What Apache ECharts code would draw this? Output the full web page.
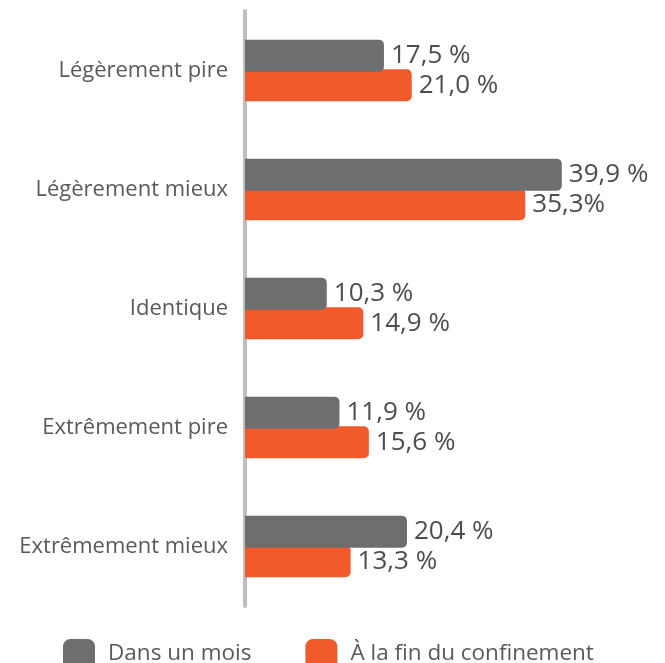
<!DOCTYPE html>
<html>
<head>
<meta charset="utf-8">
<script src="https://cdn.jsdelivr.net/npm/echarts@6/dist/echarts.min.js"></script>
<style>
  html, body { margin: 0; padding: 0; background: #fff; }
  #container { width: 665px; height: 663px; }
</style>
</head>
<body>
<div id="container"></div>
<script>
// categories, top to bottom
const categories = ['Légèrement pire', 'Légèrement mieux', 'Identique', 'Extrêmement pire', 'Extrêmement mieux']
const seriesNames = ['Dans un mois', 'À la fin du confinement']
const valuesMonth = [17.5, 39.9, 10.3, 11.9, 20.4]
const valuesEnd = [21.0, 35.3, 14.9, 15.6, 13.3]
// value labels as printed on the chart
const labelsMonth = ['17,5 %', '39,9 %', '10,3 %', '11,9 %', '20,4 %']
const labelsEnd = ['21,0 %', '35,3%', '14,9 %', '15,6 %', '13,3 %']

const font = '"Open Sans", sans-serif'

let mychart = echarts.init(document.getElementById('container'))

function barSeries(name, values, labels, color, z) {
    return {
        type: 'bar',
        name: name,
        data: values,
        z: z,
        barWidth: 32,
        barGap: '-8%',
        itemStyle: {
            color: color,
            borderRadius: [0, 5, 5, 0]
        },
        label: {
            show: true,
            position: 'right',
            distance: 7,
            fontFamily: font,
            fontSize: 26,
            color: '#4d4d4f',
            formatter: (p) => labels[p.dataIndex]
        }
    }
}

let options = {
    animation: false,
    textStyle: { fontFamily: font },
    grid: {
        left: 245,
        right: 23,
        top: 11,
        bottom: 57
    },
    legend: {
        left: 58,
        top: 634,
        itemWidth: 32,
        itemHeight: 30,
        itemGap: 54,
        icon: 'roundRect',
        textStyle: {
            fontFamily: font,
            fontSize: 22.5,
            color: '#58595b',
            padding: [0, 0, 0, 8]
        },
        data: seriesNames
    },
    xAxis: {
        type: 'value',
        min: 0,
        max: 50,
        show: false
    },
    yAxis: {
        type: 'category',
        data: categories,
        inverse: true,
        offset: 2,
        axisLine: {
            lineStyle: { color: '#bcbec0', width: 4 }
        },
        axisTick: { show: false },
        axisLabel: {
            margin: 15,
            fontFamily: font,
            fontSize: 22,
            color: '#58595b'
        }
    },
    series: [
        barSeries(seriesNames[0], valuesMonth, labelsMonth, '#6d6e70', 3),
        barSeries(seriesNames[1], valuesEnd, labelsEnd, '#f15a2b', 2)
    ]
}

mychart.setOption(options)
window.addEventListener('resize', () => { mychart.resize() })
</script>
</body>
</html>
